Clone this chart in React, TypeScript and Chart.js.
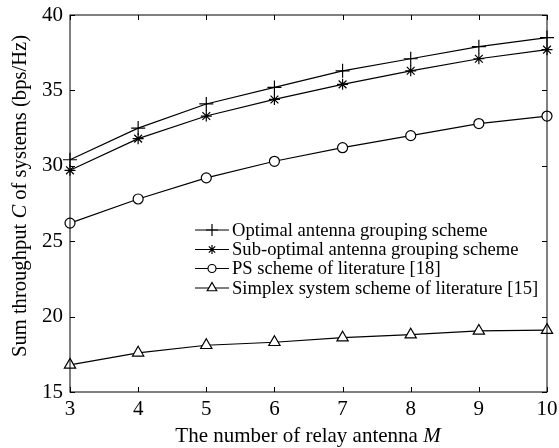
import { useEffect, useRef } from "react";
import { Chart, registerables } from "chart.js";
import { drawPoint } from "chart.js/helpers";

Chart.register(...registerables);

const relayAntennas = ["3", "4", "5", "6", "7", "8", "9", "10"];
const optimal = [30.4, 32.5, 34.1, 35.2, 36.3, 37.1, 37.9, 38.5];
const subOptimal = [29.7, 31.8, 33.3, 34.4, 35.4, 36.3, 37.1, 37.7];
const psScheme = [26.2, 27.8, 29.2, 30.3, 31.2, 32.0, 32.8, 33.3];
const simplex = [16.8, 17.6, 18.1, 18.3, 18.6, 18.8, 19.05, 19.1];
const yTicks = [15, 20, 25, 30, 35, 40];
const seriesNames = [
  "Optimal antenna grouping scheme",
  "Sub-optimal antenna grouping scheme",
  "PS scheme of literature [18]",
  "Simplex system scheme of literature [15]",
];

const FONT = "'Liberation Serif', 'Times New Roman', serif";

type Seg = { t: string; italic?: boolean };

function drawMixed(ctx: CanvasRenderingContext2D, segs: Seg[], size: number) {
  let total = 0;
  const widths = segs.map((s) => {
    ctx.font = `${s.italic ? "italic " : ""}${size}px ${FONT}`;
    const w = ctx.measureText(s.t).width;
    total += w;
    return w;
  });
  let x = -total / 2;
  segs.forEach((s, i) => {
    ctx.font = `${s.italic ? "italic " : ""}${size}px ${FONT}`;
    ctx.fillText(s.t, x, 0);
    x += widths[i];
  });
}

const framePlugin = {
  id: "frameTicks",
  afterDraw(chart: any) {
    const { ctx, chartArea } = chart;
    const { left, right, top, bottom } = chartArea;
    const xs = chart.scales.x;
    const ys = chart.scales.y;
    ctx.save();
    ctx.strokeStyle = "#000";
    ctx.lineWidth = 1;
    ctx.strokeRect(left, top, right - left, bottom - top);
    const tl = 5;
    ctx.beginPath();
    relayAntennas.forEach((_, i) => {
      const px = Math.round(xs.getPixelForValue(i)) + 0.5;
      ctx.moveTo(px, bottom);
      ctx.lineTo(px, bottom - tl);
      ctx.moveTo(px, top);
      ctx.lineTo(px, top + tl);
    });
    yTicks.forEach((v) => {
      const py = Math.round(ys.getPixelForValue(v)) + 0.5;
      ctx.moveTo(left, py);
      ctx.lineTo(left + tl, py);
      ctx.moveTo(right, py);
      ctx.lineTo(right - tl, py);
    });
    ctx.stroke();

    // axis titles
    ctx.fillStyle = "#000";
    ctx.textBaseline = "middle";
    ctx.textAlign = "left";
    ctx.save();
    ctx.translate(308, 436);
    drawMixed(ctx, [{ t: "The number of relay antenna " }, { t: "M", italic: true }], 21);
    ctx.restore();
    ctx.save();
    ctx.translate(21, 196);
    ctx.rotate(-Math.PI / 2);
    drawMixed(
      ctx,
      [{ t: "Sum throughput " }, { t: "C", italic: true }, { t: " of systems (bps/Hz)" }],
      20.6
    );
    ctx.restore();

    // legend
    const lx0 = left + 125;
    const lx1 = left + 159;
    const tx = left + 162;
    const rowY = [top + 215, top + 234.5, top + 253.5, top + 273];
    chart.data.datasets.forEach((ds: any, i: number) => {
      const y = rowY[i];
      ctx.strokeStyle = "#000";
      ctx.lineWidth = 1.2;
      ctx.beginPath();
      ctx.moveTo(lx0, y);
      ctx.lineTo(lx1, y);
      ctx.stroke();
      ctx.fillStyle = "#fff";
      ctx.strokeStyle = "#000";
      ctx.lineWidth = 1.2;
      drawPoint(
        ctx,
        { pointStyle: ds.pointStyle, radius: ds.pointRadius - 1, rotation: 0, borderWidth: 1.2 } as any,
        (lx0 + lx1) / 2,
        y
      );
      ctx.fillStyle = "#000";
      ctx.font = `18.6px ${FONT}`;
      ctx.textAlign = "left";
      ctx.textBaseline = "middle";
      ctx.fillText(seriesNames[i], tx, y + 1);
    });
    ctx.restore();
  },
};

export default function App() {
  const ref = useRef<HTMLCanvasElement>(null);
  useEffect(() => {
    document.body.style.margin = "0";
    const mk = (data: number[], style: string, r: number) => ({
      data,
      borderColor: "#000",
      borderWidth: 1.2,
      backgroundColor: "#fff",
      pointStyle: style,
      pointRadius: r,
      pointBorderColor: "#000",
      pointBackgroundColor: "#fff",
      pointBorderWidth: 1.2,
      tension: 0,
      fill: false,
    });
    const chart = new Chart(ref.current!, {
      type: "line",
      data: {
        labels: relayAntennas,
        datasets: [
          { label: seriesNames[0], ...mk(optimal, "cross", 7) },
          { label: seriesNames[1], ...mk(subOptimal, "star", 5.5) },
          { label: seriesNames[2], ...mk(psScheme, "circle", 5) },
          { label: seriesNames[3], ...mk(simplex, "triangle", 6.5) },
        ],
      },
      options: {
        animation: false,
        responsive: true,
        maintainAspectRatio: false,
        layout: { padding: { top: 15, right: 12, left: 0, bottom: 0 } },
        plugins: { legend: { display: false }, tooltip: { enabled: false } },
        scales: {
          x: {
            type: "category",
            offset: false,
            grid: { display: false, drawTicks: false },
            border: { display: false },
            ticks: { color: "#000", font: { family: FONT, size: 21 }, padding: 5, maxRotation: 0 },
            afterFit: (s: any) => {
              s.height = 56;
              s.paddingLeft = 0;
              s.paddingRight = 0;
              s.paddingTop = 0;
              s.paddingBottom = 0;
            },
          },
          y: {
            min: 15,
            max: 40,
            grid: { display: false, drawTicks: false },
            border: { display: false },
            ticks: { color: "#000", font: { family: FONT, size: 21 }, padding: 7, stepSize: 5 },
            afterFit: (s: any) => {
              s.width = 70;
              s.paddingLeft = 0;
              s.paddingRight = 0;
              s.paddingTop = 0;
              s.paddingBottom = 0;
            },
          },
        },
      },
      plugins: [framePlugin],
    });
    return () => chart.destroy();
  }, []);
  return (
    <div style={{ width: 559, height: 448, position: "relative", background: "#fff" }}>
      <canvas ref={ref} />
    </div>
  );
}
